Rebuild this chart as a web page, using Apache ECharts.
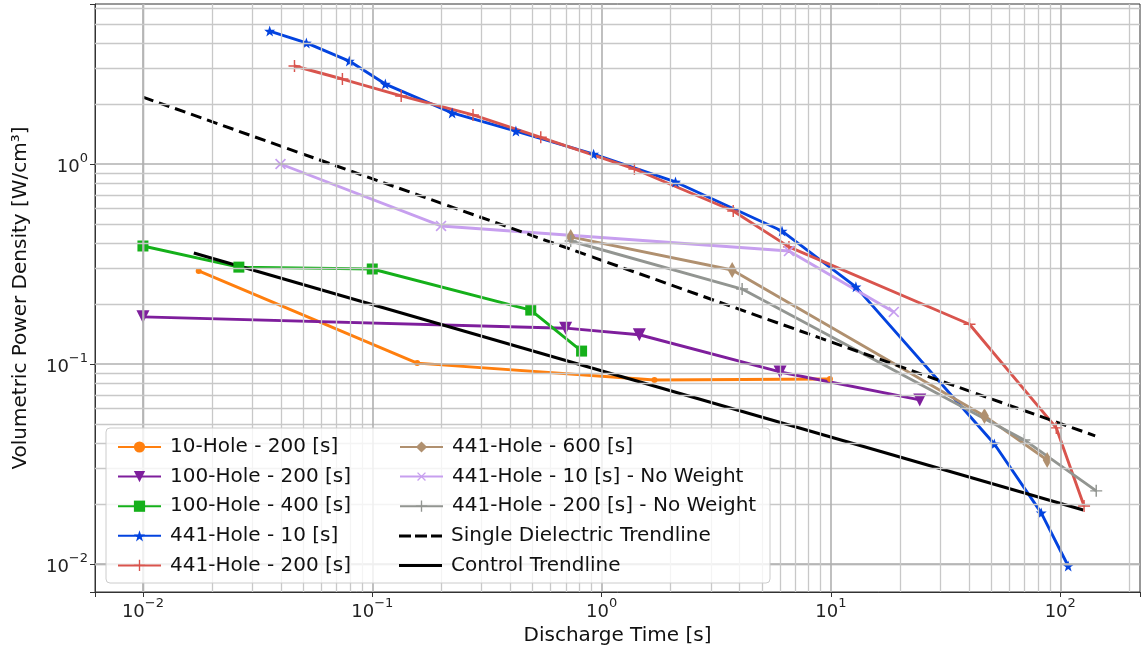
<!DOCTYPE html>
<html><head><meta charset="utf-8">
<script src="https://cdn.jsdelivr.net/npm/echarts@6/dist/echarts.min.js"></script>
<style>html,body{margin:0;padding:0;background:#fff}#c{width:1143px;height:651px}</style>
</head><body><div id="c"></div>
<script>
// ---- data ----
const hole10_200_x = [0.0175, 0.157, 1.70, 9.90];
const hole10_200_y = [0.292, 0.101, 0.0832, 0.0841];
const hole100_200_x = [0.0100, 0.697, 1.46, 6.00, 24.4];
const hole100_200_y = [0.172, 0.151, 0.140, 0.0912, 0.0661];
const hole100_400_x = [0.0100, 0.0262, 0.100, 0.491, 0.818];
const hole100_400_y = [0.389, 0.305, 0.2985, 0.186, 0.116];
const hole441_10_x = [0.0357, 0.0516, 0.0794, 0.114, 0.223, 0.423, 0.923, 2.10, 6.12, 12.85, 51.6, 82.6, 108.3];
const hole441_10_y = [4.62, 4.03, 3.27, 2.51, 1.80, 1.46, 1.12, 0.813, 0.462, 0.243, 0.0398, 0.0180, 0.00977];
const hole441_200_x = [0.0458, 0.0741, 0.1337, 0.275, 0.543, 1.39, 3.75, 6.56, 40.2, 96.1, 127];
const hole441_200_y = [3.09, 2.66, 2.19, 1.76, 1.36, 0.944, 0.582, 0.385, 0.158, 0.0479, 0.0195];
const hole441_600_x = [0.733, 3.71, 46.7, 87.7];
const hole441_600_y = [0.432, 0.295, 0.0550, 0.0331];
const hole441_10nw_x = [0.0398, 0.1995, 6.56, 18.8];
const hole441_10nw_y = [1.00, 0.490, 0.367, 0.182];
const hole441_200nw_x = [0.733, 4.10, 69.7, 143.5];
const hole441_200nw_y = [0.412, 0.237, 0.0417, 0.0232];
const dielectric_x = [0.0100, 142];
const dielectric_y = [2.16, 0.0437];
const control_x = [0.01667, 126];
const control_y = [0.359, 0.0186];
const names = ['10-Hole - 200 [s]', '100-Hole - 200 [s]', '100-Hole - 400 [s]', '441-Hole - 10 [s]', '441-Hole - 200 [s]',
  '441-Hole - 600 [s]', '441-Hole - 10 [s] - No Weight', '441-Hole - 200 [s] - No Weight', 'Single Dielectric Trendline', 'Control Trendline'];

// ---- setup ----
const X_MIN = 0.00618, X_MAX = 222.7, Y_MIN = 0.00724, Y_MAX = 6.31;
const FONT = 'DejaVu Sans';
const zip = (xs, ys) => xs.map((x, i) => [x, ys[i]]);
const STAR = 'path://M0,-100L23.5,-32.4L95.1,-30.9L38,12.4L58.8,80.9L0,40L-58.8,80.9L-38,12.4L-95.1,-30.9L-23.5,-32.4Z';
const PLUS = 'path://M-1.2,-10L1.2,-10L1.2,10L-1.2,10Z M-10,-1.2L10,-1.2L10,1.2L-10,1.2Z';
const DASH_ICON = 'path://M0,0H12V3H0Z M16,0H28V3H16Z M32,0H43V3H32Z';
const SOLID_ICON = 'path://M0,0H43V3H0Z';

function mk(name, xs, ys, color, symbol, size, extra) {
  return Object.assign({
    name, type: 'line', data: zip(xs, ys), symbol, symbolSize: size,
    showSymbol: true, animation: false,
    lineStyle: {color, width: 2.9}, itemStyle: {color},
    emphasis: {disabled: true}
  }, extra || {});
}

// grid lines (major + minor) at decade multiples
const gridLines = [];
for (let d = -3; d <= 2; d++) for (let k = 1; k <= 9; k++) {
  const v = k * Math.pow(10, d);
  const st = {color: k === 1 ? '#b0b0b0' : '#c8c8c8', width: k === 1 ? 1.6 : 1.3, type: 'solid'};
  if (v > X_MIN && v < X_MAX) gridLines.push({xAxis: v, lineStyle: st});
  if (v > Y_MIN && v < Y_MAX) gridLines.push({yAxis: v, lineStyle: st});
}

function powLabel(v) {
  const l = Math.log10(v), r = Math.round(l);
  if (Math.abs(l - r) > 1e-6) return '';
  const e = r < 0 ? '\u2212' + (-r) : '' + r;
  return '{b|10}{s|' + e + '}';
}
const rich = {
  b: {fontSize: 18, fontFamily: FONT, color: '#222', lineHeight: 24, verticalAlign: 'bottom'},
  s: {fontSize: 13, fontFamily: FONT, color: '#222', lineHeight: 24, verticalAlign: 'top'}
};

const series = [
  {type: 'line', data: [], name: '_grid', z: 1, silent: true, animation: false,
   markLine: {silent: true, symbol: 'none', label: {show: false}, animation: false, data: gridLines}},
  mk(names[0], hole10_200_x, hole10_200_y, '#ff7f0e', 'circle', 6),
  mk(names[1], hole100_200_x, hole100_200_y, '#7e1e9c', 'triangle', 13, {symbolRotate: 180}),
  mk(names[2], hole100_400_x, hole100_400_y, '#15b01a', 'rect', 11),
  mk(names[3], hole441_10_x, hole441_10_y, '#0343df', STAR, 11),
  mk(names[4], hole441_200_x, hole441_200_y, '#d9544d', PLUS, 12),
  mk(names[5], hole441_600_x, hole441_600_y, '#b0906f', 'diamond', [9, 16]),
  mk(names[6], hole441_10nw_x, hole441_10nw_y, '#c79fef', PLUS, 14, {symbolRotate: 45}),
  mk(names[7], hole441_200nw_x, hole441_200nw_y, '#929591', PLUS, 12),
  mk(names[8], dielectric_x, dielectric_y, '#000', 'none', 0, {showSymbol: false, lineStyle: {color: '#000', width: 3, type: [11, 6]}}),
  mk(names[9], control_x, control_y, '#000', 'none', 0, {showSymbol: false, lineStyle: {color: '#000', width: 3}})
];

const legendCommon = {
  orient: 'vertical', itemWidth: 43, itemHeight: 14, itemGap: 9.6, z: 20,
  selectedMode: false, inactiveColor: '#000',
  textStyle: {fontSize: 20, fontFamily: FONT, color: '#111', lineHeight: 20, padding: [0, 0, 0, 4]}
};

const option = {
  backgroundColor: '#fff',
  animation: false,
  grid: {left: 95, top: 4, right: 0, bottom: 59, show: true, borderColor: '#333', borderWidth: 1, backgroundColor: 'transparent'},
  xAxis: {
    type: 'log', logBase: 10, min: X_MIN, max: X_MAX,
    name: 'Discharge Time [s]', nameLocation: 'middle', nameGap: 32,
    nameTextStyle: {fontSize: 20, fontFamily: FONT, color: '#111'},
    axisLine: {lineStyle: {color: '#333', width: 1}},
    axisTick: {show: true, length: 5, lineStyle: {color: '#333'}},
    splitLine: {show: false},
    axisLabel: {formatter: powLabel, rich, margin: 5}
  },
  yAxis: {
    type: 'log', logBase: 10, min: Y_MIN, max: Y_MAX,
    name: 'Volumetric Power Density [W/cm\u00b3]', nameLocation: 'middle', nameGap: 64,
    nameTextStyle: {fontSize: 20, fontFamily: FONT, color: '#111'},
    axisLine: {lineStyle: {color: '#333', width: 1}},
    axisTick: {show: true, length: 5, lineStyle: {color: '#333'}},
    splitLine: {show: false},
    axisLabel: {formatter: powLabel, rich, margin: 7}
  },
  graphic: {z: 10, elements: [{type: 'rect', z: 10, shape: {x: 106, y: 428, width: 664, height: 155, r: 4},
    style: {fill: 'rgba(255,255,255,0.8)', stroke: '#cccccc', lineWidth: 1}}]},
  legend: [
    Object.assign({left: 112, top: 432, data: names.slice(0, 5)}, legendCommon),
    Object.assign({left: 394, top: 432, data: names.slice(5, 8)}, legendCommon),
    Object.assign({}, legendCommon, {left: 394, top: 521, itemHeight: 3,
      data: [{name: names[8], icon: DASH_ICON}, {name: names[9], icon: SOLID_ICON}]})
  ],
  series
};
const chart = echarts.init(document.getElementById('c'), null, {renderer: 'canvas'});
chart.setOption(option);
</script>
</body></html>
